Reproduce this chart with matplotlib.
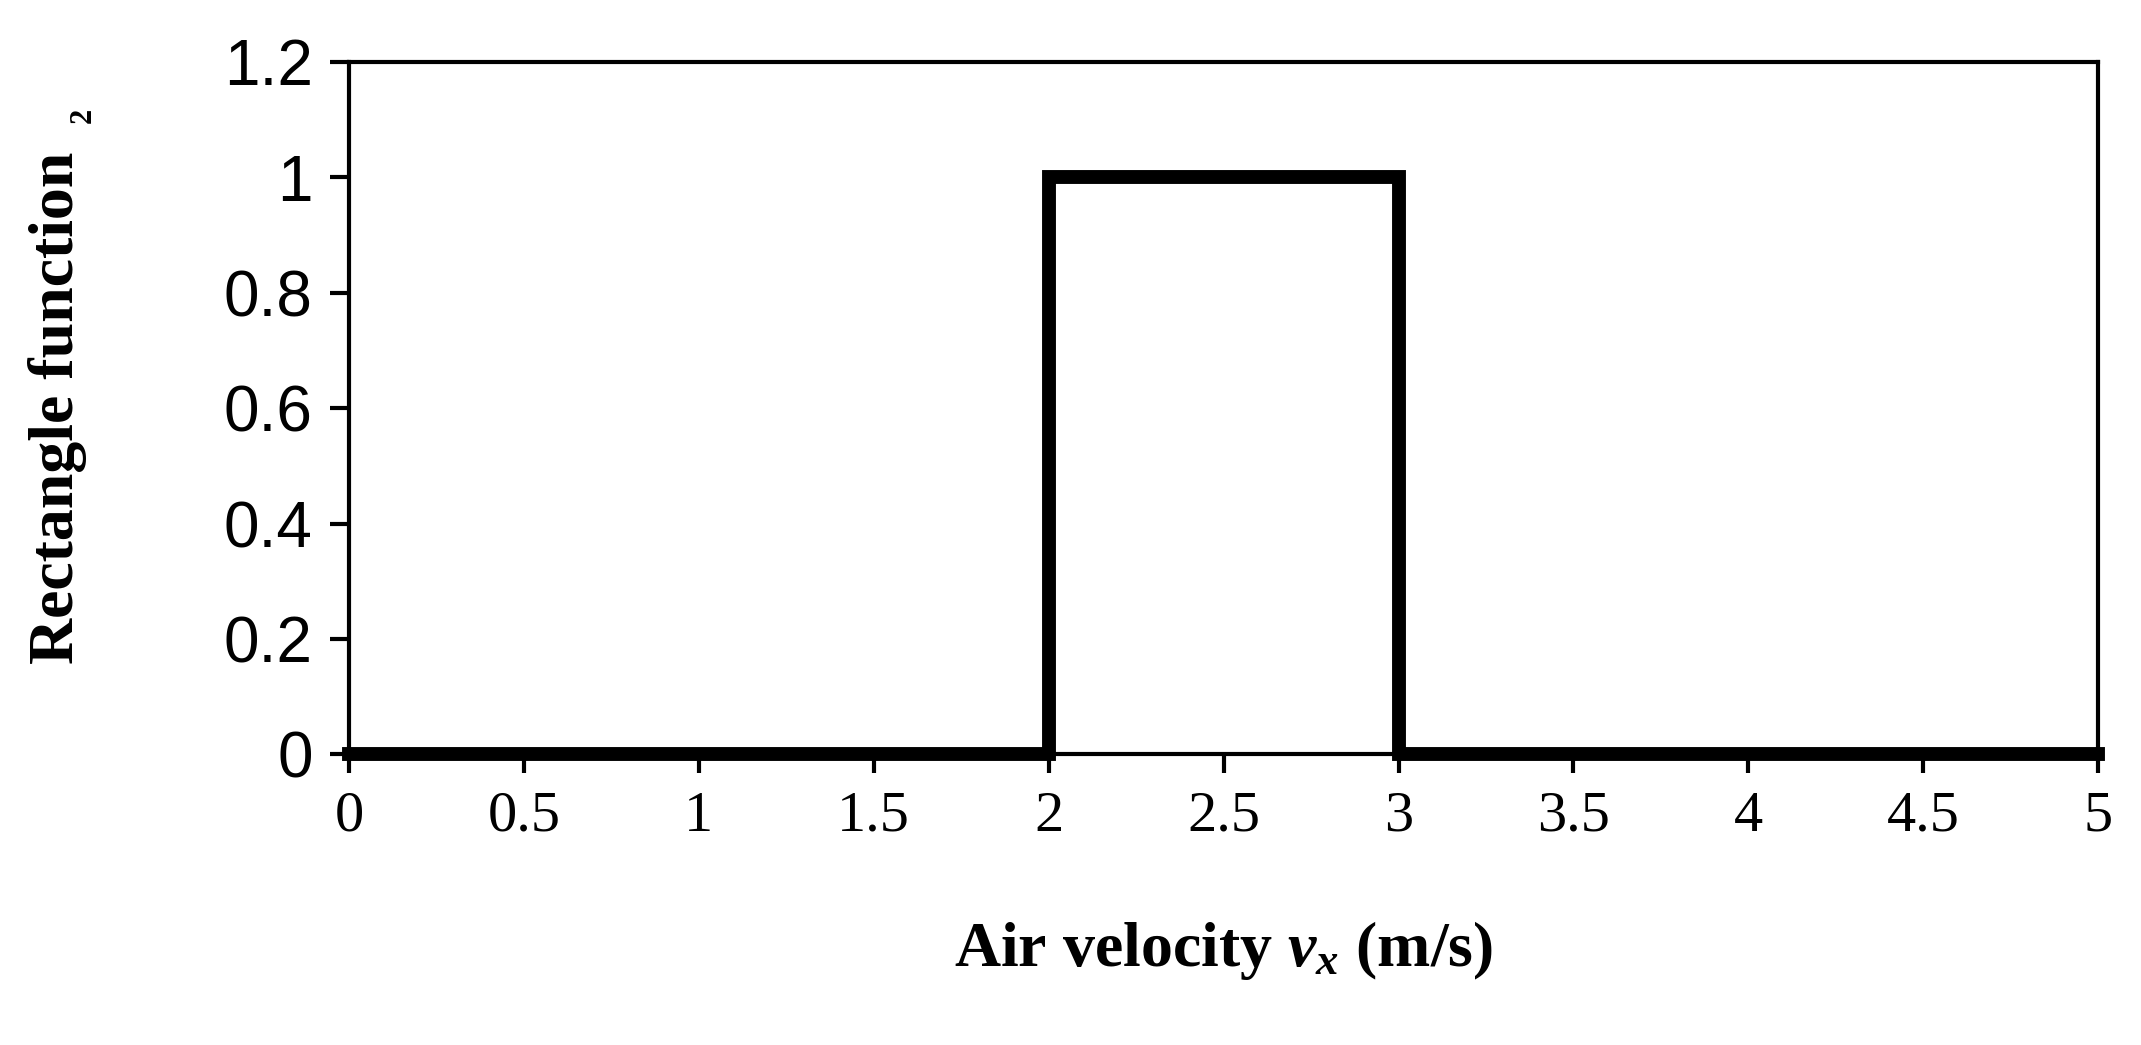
import matplotlib
matplotlib.use("Agg")
import matplotlib.pyplot as plt

plt.rcParams["mathtext.fontset"] = "custom"
plt.rcParams["mathtext.bfit"] = "Liberation Serif:bold:italic"
plt.rcParams["mathtext.it"] = "Liberation Serif:bold:italic"

x_vals = [0, 2, 2, 3, 3, 5]
y_vals = [0, 0, 1, 1, 0, 0]
x_ticks = [0, 0.5, 1, 1.5, 2, 2.5, 3, 3.5, 4, 4.5, 5]
x_labels = ["0", "0.5", "1", "1.5", "2", "2.5", "3", "3.5", "4", "4.5", "5"]
y_ticks = [0, 0.2, 0.4, 0.6, 0.8, 1, 1.2]
y_labels = ["0", "0.2", "0.4", "0.6", "0.8", "1", "1.2"]

fig = plt.figure(figsize=(21.41, 10.45), dpi=100)
ax = fig.add_axes([0.163, 0.278, 0.817, 0.663])
ax.plot(x_vals, y_vals, color="black", lw=10, solid_joinstyle="miter", clip_on=False)
ax.set_xlim(0, 5)
ax.set_ylim(0, 1.2)
ax.set_xticks(x_ticks)
ax.set_xticklabels(x_labels, family="Liberation Serif", fontsize=42)
ax.set_yticks(y_ticks)
ax.set_yticklabels(y_labels, family="Liberation Sans", fontsize=46)
ax.tick_params(direction="out", length=14, width=3, pad=12)
for s in ax.spines.values():
    s.set_linewidth(3)
ax.set_xlabel(r"Air velocity $\mathit{v}_{\mathit{x}}$ (m/s)", family="Liberation Serif",
              fontsize=46, fontweight="bold", labelpad=55)
fig.text(0.027, 0.61, "Rectangle function", rotation=90, family="Liberation Serif",
         fontsize=46, fontweight="bold", ha="center", va="center")
fig.text(0.039, 0.89, "2", rotation=90, family="Liberation Serif",
         fontsize=22, fontweight="bold", ha="center", va="center")
fig.savefig("out.png", dpi=100)
